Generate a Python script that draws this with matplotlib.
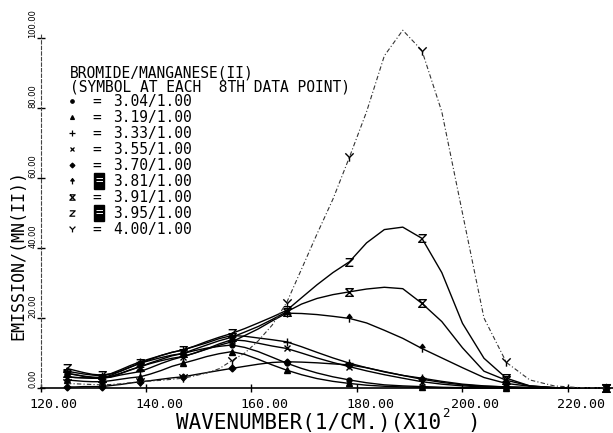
import matplotlib
matplotlib.use('Agg')
import matplotlib.pyplot as plt
from matplotlib.path import Path
from matplotlib.lines import Line2D
from matplotlib.transforms import ScaledTranslation

plt.rcParams['font.family'] = ['DejaVu Sans Mono']

# wavenumber (x 100 cm^-1), data read every 10 nm from 800 nm to 440 nm
wavenumber = [125.00, 126.58, 128.21, 129.87, 131.58, 133.33, 135.14, 136.99, 138.89,
              140.85, 142.86, 144.93, 147.06, 149.25, 151.52, 153.85, 156.25, 158.73,
              161.29, 163.93, 166.67, 169.49, 172.41, 175.44, 178.57, 181.82, 185.19,
              188.68, 192.31, 196.08, 200.00, 204.08, 208.33, 212.77, 217.39, 222.22, 227.27]

em_304 = [4.2, 3.8, 3.4, 3.1, 3.0, 3.6, 4.8, 6.0, 7.1, 7.9, 8.7, 9.4, 9.9, 10.7, 11.4, 11.9, 12.3, 11.6,
          10.4, 8.8, 7.1, 5.6, 4.3, 3.2, 2.3, 1.5, 0.9, 0.6, 0.4, 0.2, 0.1, 0.0, 0.0, 0.0, 0.0, 0.0, 0.0]
em_319 = [2.3, 2.1, 1.9, 1.8, 1.8, 2.1, 2.5, 2.9, 3.2, 4.0, 5.0, 6.2, 7.1, 8.0, 9.0, 9.8, 10.4, 9.6,
          8.2, 6.6, 5.1, 3.8, 2.7, 1.9, 1.3, 0.8, 0.5, 0.3, 0.2, 0.1, 0.0, 0.0, 0.0, 0.0, 0.0, 0.0, 0.0]
em_333 = [4.8, 4.4, 4.0, 3.7, 3.5, 4.1, 5.2, 6.4, 7.5, 8.4, 9.3, 10.2, 10.9, 11.9, 12.9, 14.1, 15.0, 14.8,
          14.3, 13.8, 13.2, 11.8, 10.2, 8.6, 7.1, 5.8, 4.6, 3.6, 2.8, 1.9, 1.1, 0.6, 0.3, 0.1, 0.0, 0.0, 0.0]
em_355 = [3.2, 3.0, 2.9, 2.8, 2.8, 3.3, 4.2, 5.2, 6.1, 7.0, 7.8, 8.5, 9.0, 10.0, 11.2, 12.6, 13.8, 13.5,
          12.8, 12.0, 11.3, 10.0, 8.6, 7.3, 6.1, 4.9, 3.8, 2.8, 1.8, 1.1, 0.6, 0.3, 0.2, 0.1, 0.0, 0.0, 0.0]
em_370 = [0.3, 0.3, 0.4, 0.4, 0.4, 0.7, 1.0, 1.4, 1.8, 2.1, 2.5, 2.9, 3.2, 3.8, 4.4, 5.0, 5.6, 6.2,
          6.8, 7.3, 7.5, 7.4, 7.2, 6.9, 6.6, 5.8, 4.7, 3.6, 2.5, 1.6, 0.9, 0.5, 0.3, 0.1, 0.0, 0.0, 0.0]
em_381 = [3.2, 3.0, 2.9, 2.8, 2.8, 3.1, 3.7, 4.2, 4.7, 5.8, 7.0, 8.1, 9.0, 10.0, 11.1, 12.2, 13.2, 15.0,
          16.9, 19.2, 21.4, 21.3, 21.0, 20.5, 19.9, 18.6, 16.5, 14.2, 11.3, 8.6, 5.8, 3.0, 1.3, 0.5, 0.1, 0.0, 0.0]
em_391 = [4.2, 3.8, 3.3, 3.0, 2.8, 3.2, 4.1, 5.1, 6.1, 7.2, 8.2, 9.2, 9.9, 11.1, 12.3, 13.5, 14.5, 16.0,
          17.6, 19.6, 21.8, 24.0, 25.6, 26.7, 27.5, 28.3, 28.8, 28.4, 24.2, 19.0, 11.5, 4.8, 2.2, 0.6, 0.1, 0.0, 0.0]
em_395 = [5.6, 5.0, 4.4, 3.9, 3.7, 4.0, 4.8, 5.9, 7.1, 8.2, 9.3, 10.2, 10.9, 12.0, 13.3, 14.5, 15.6, 17.0,
          18.6, 20.3, 22.2, 25.8, 29.5, 33.0, 36.1, 41.5, 45.3, 46.0, 42.8, 33.0, 18.5, 8.5, 2.8, 0.6, 0.1, 0.0, 0.0]
em_400 = [1.3, 1.2, 1.1, 1.0, 0.9, 1.0, 1.2, 1.5, 1.8, 2.0, 2.2, 2.5, 2.8, 3.5, 4.3, 5.5, 7.8, 10.0,
          13.5, 18.0, 24.4, 34.0, 44.0, 54.0, 66.0, 79.0, 95.0, 102.3, 96.5, 79.0, 50.0, 20.0, 7.3, 2.3, 0.6, 0.1, 0.0]

ratio_labels = ['3.04/1.00', '3.19/1.00', '3.33/1.00', '3.55/1.00', '3.70/1.00',
                '3.81/1.00', '3.91/1.00', '3.95/1.00', '4.00/1.00']
series = [em_304, em_319, em_333, em_355, em_370, em_381, em_391, em_395, em_400]

x_ticks = [120, 140, 160, 180, 200, 220]
x_ticklabels = ['120.00', '140.00', '160.00', '180.00', '200.00', '220.00']
y_ticks = [0, 20, 40, 60, 80, 100]
y_ticklabels = ['0.00', '20.00', '40.00', '60.00', '80.00', '100.00']

M, L, C = Path.MOVETO, Path.LINETO, Path.CLOSEPOLY
p_arrow = Path([(0, -1), (0, 0.2), (-0.6, 0.2), (0, 1), (0.6, 0.2), (-0.6, 0.2)],
               [M, L, M, L, L, C])
p_hour = Path([(-1, 1), (1, 1), (-1, -1), (1, -1), (-1, 1)], [M, L, L, L, L])
p_z = Path([(-1, 1), (1, 1), (-1, -1), (1, -1)], [M, L, L, L])
p_y = Path([(-1, 1), (0, 0), (1, 1), (0, 0), (0, -1)], [M, L, L, M, L])

styles = [
    dict(marker='o', ms=3.5, mfc='black'),
    dict(marker='^', ms=4, mfc='black'),
    dict(marker='+', ms=5.5, mfc='none'),
    dict(marker='x', ms=4.5, mfc='none'),
    dict(marker='D', ms=3.5, mfc='black'),
    dict(marker=p_arrow, ms=6, mfc='black'),
    dict(marker=p_hour, ms=5.5, mfc='none'),
    dict(marker=p_z, ms=5.5, mfc='none'),
    dict(marker=p_y, ms=6, mfc='none'),
]

W, H = 613, 433
fig = plt.figure(figsize=(W / 100, H / 100), dpi=100)
ax = fig.add_axes([40.5 / W, (H - 388) / H, 572.3 / W, 384.7 / H])
ax.set_xlim(120, 228.5)
ax.set_ylim(0, 110)

for i, (vals, st) in enumerate(zip(series, styles)):
    if i == 8:
        ls, lw, col = (0, (4, 2, 1, 2)), 0.8, '#333333'
    else:
        ls, lw, col = '-', 1.0, 'black'
    ax.plot(wavenumber, vals, linestyle=ls, lw=lw, color=col, markevery=4,
            marker=st['marker'], ms=st['ms'], mfc=st['mfc'], mec='black', mew=1.0,
            clip_on=False, zorder=3)

for s in ['top', 'right']:
    ax.spines[s].set_visible(False)
ax.spines['bottom'].set_linewidth(1.2)
ax.spines['left'].set_linewidth(0.8)
ax.spines['left'].set_linestyle((0, (3, 2)))
ax.spines['left'].set_color('#444444')
ax.spines['left'].set_bounds(0, 101.5)

ax.set_xticks(x_ticks, x_ticklabels)
ax.set_yticks(y_ticks, y_ticklabels)
ax.tick_params(axis='x', direction='inout', length=6, width=1.0, pad=4.5, labelsize=9.5)
ax.tick_params(axis='y', direction='inout', length=6, width=1.0, pad=0.6, labelsize=6)
for lab in ax.get_xticklabels():
    lab.set_horizontalalignment('left')
    lab.set_transform(lab.get_transform() + ScaledTranslation(-0.11, 0, fig.dpi_scale_trans))
for lab in ax.get_yticklabels():
    lab.set_rotation(90)
    lab.set_rotation_mode('anchor')
    lab.set_horizontalalignment('left')
    lab.set_verticalalignment('baseline')
    lab.set_fontfamily('DejaVu Sans')


def fx(px):
    return px / W


def fy(py):
    return 1 - py / H


# axis titles (x title split so the superscript sits between its parts)
fig.text(fx(176), fy(429), 'WAVENUMBER(1/CM.)(X10', fontsize=15, ha='left', va='baseline')
fig.text(fx(442), fy(417), '2', fontsize=9, ha='left', va='baseline')
fig.text(fx(467), fy(429), ')', fontsize=15, ha='left', va='baseline')
fig.text(fx(18), fy(255), 'EMISSION/(MN(II))', fontsize=12, rotation=90, ha='center', va='center')

# legend block
fig.text(fx(70), fy(91), 'BROMIDE/MANGANESE(II)\n(SYMBOL AT EACH  8TH DATA POINT)',
         fontsize=10.5, ha='left', va='baseline', linespacing=0.88)
for i, (lab, st) in enumerate(zip(ratio_labels, styles)):
    yc = 101 + 16.0 * i
    fig.add_artist(Line2D([fx(72)], [fy(yc)], transform=fig.transFigure, linestyle='none',
                          marker=st['marker'], ms=st['ms'] * 0.7, mfc=st['mfc'], mec='black', mew=0.9))
    if lab in ('3.81/1.00', '3.95/1.00'):
        fig.text(fx(99), fy(yc), '=', fontsize=9, color='white', ha='center', va='center',
                 bbox=dict(boxstyle='square,pad=0.12', fc='black', ec='black'))
    else:
        fig.text(fx(97), fy(yc), '=', fontsize=10.5, ha='center', va='center')
    fig.text(fx(113), fy(yc + 5.3), lab, fontsize=10.5, ha='left', va='baseline')

fig.savefig('out.png', dpi=100)
